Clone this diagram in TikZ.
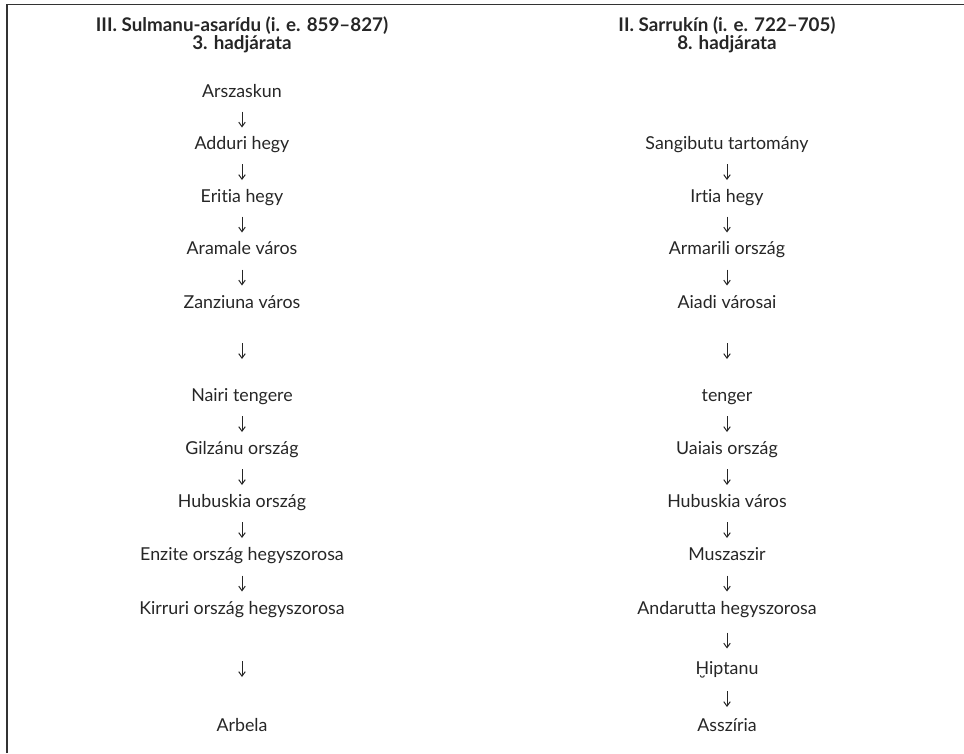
\documentclass[tikz,border=0pt]{standalone}
\usepackage{fontspec}
\setmainfont{Lato}[Ligatures={NoCommon,NoRare}]
\usetikzlibrary{calc,arrows.meta}
\newcommand\Hbrv{{\ooalign{H\cr\hidewidth\raisebox{-0.82em}[0pt][0pt]{˘}\hidewidth\cr}}}
\begin{document}
\begin{tikzpicture}[x=1pt,y=-1pt,
  place/.style={font=\fontsize{17.8}{20}\selectfont, text=black!85, text height=12pt, text depth=4pt, inner sep=0pt},
  ttl/.style={font=\bfseries\fontsize{18.8}{17.5}\selectfont, text=black!85, align=center, inner sep=0pt},
  flow/.style={-{Straight Barb[length=4.5pt,width=6.5pt]}, line width=1pt, draw=black!85},
  frame/.style={draw=black!80, line width=1.3pt}]
\useasboundingbox (0,0) rectangle (964,753);
\draw[frame] (7,753) -- (7,4.5) -- (964,4.5);
% titles
\node[ttl] (tl) at (242,35) {III. Sulmanu-asarídu (i. e. 859–827)\\3. hadjárata};
\node[ttl] (tr) at (727,35) {II. Sarrukín (i. e. 722–705)\\8. hadjárata};
% left column
\node[place] (l1) at (242,93) {Arszaskun};
\node[place] (l2) at (242,145) {Adduri hegy};
\node[place] (l3) at (242,198) {Eritia hegy};
\node[place] (l4) at (242,250) {Aramale város};
\node[place] (l5) at (242,304) {Zanziuna város};
\node[place] (l6) at (242,397) {Nairi tengere};
\node[place] (l7) at (242,450) {Gilzánu ország};
\node[place] (l8) at (242,503) {Hubuskia ország};
\node[place] (l9) at (242,556) {Enzite ország hegyszorosa};
\node[place] (l10) at (242,610) {Kirruri ország hegyszorosa};
\node[place] (l11) at (242,727) {Arbela};
% right column
\node[place] (r1) at (727,145) {Sangibutu tartomány};
\node[place] (r2) at (727,198) {Irtia hegy};
\node[place] (r3) at (727,250) {Armarili ország};
\node[place] (r4) at (727,304) {Aiadi városai};
\node[place] (r5) at (727,397) {tenger};
\node[place] (r6) at (727,450) {Uaiais ország};
\node[place] (r7) at (727,503) {Hubuskia város};
\node[place] (r8) at (727,556) {Muszaszir};
\node[place] (r9) at (727,610) {Andarutta hegyszorosa};
\node[place] (r10) at (727,670) {\Hbrv iptanu};
\node[place] (r11) at (727,727) {Asszíria};
% arrows
\foreach \a/\b in {l1/l2,l2/l3,l3/l4,l4/l5,l5/l6,l6/l7,l7/l8,l8/l9,l9/l10,l10/l11,
                   r1/r2,r2/r3,r3/r4,r4/r5,r5/r6,r6/r7,r7/r8,r8/r9,r9/r10,r10/r11}
  \draw[flow] ($(\a)!0.5!(\b)+(0,-7.5)$) -- ($(\a)!0.5!(\b)+(0,8.5)$);
\end{tikzpicture}
\end{document}
